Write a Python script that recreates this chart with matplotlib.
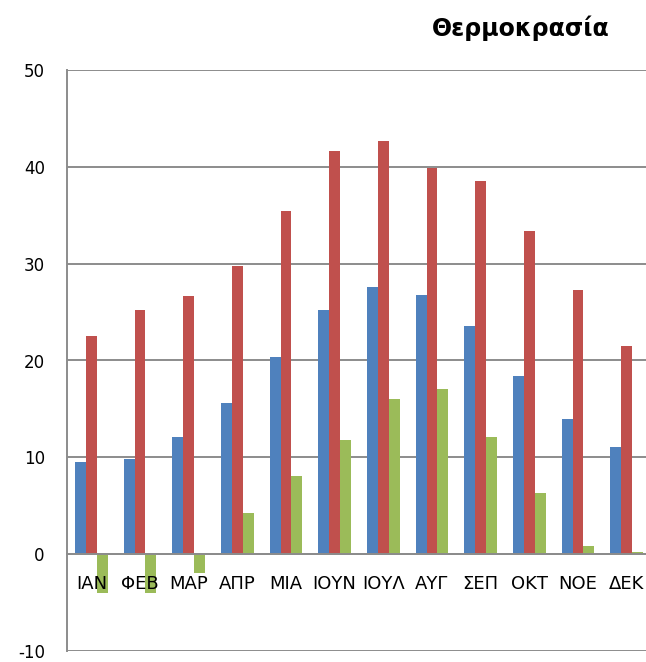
import numpy as np
import matplotlib.pyplot as plt

months = ["ΙΑΝ", "ΦΕΒ", "ΜΑΡ", "ΑΠΡ", "ΜΙΑ", "ΙΟΥΝ", "ΙΟΥΛ", "ΑΥΓ", "ΣΕΠ", "ΟΚΤ", "ΝΟΕ", "ΔΕΚ"]
mean_temp = [9.5, 9.8, 12.1, 15.6, 20.4, 25.2, 27.6, 26.8, 23.6, 18.4, 14.0, 11.1]
max_temp = [22.5, 25.2, 26.7, 29.8, 35.4, 41.6, 42.7, 39.9, 38.5, 33.4, 27.3, 21.5]
min_temp = [-4.0, -4.0, -1.9, 4.2, 8.1, 11.8, 16.0, 17.1, 12.1, 6.3, 0.8, 0.2]

plt.rcParams['font.family'] = ['DejaVu Sans']
plt.rcParams['axes.unicode_minus'] = False

fig = plt.figure(figsize=(6.46, 6.62), dpi=100)
ax = fig.add_axes([67 / 646, 11 / 662, 584 / 646, 581 / 662])

x = np.arange(len(months))
w = 0.226
ax.bar(x - w, mean_temp, w, color="#4F81BD", zorder=2)
ax.bar(x, max_temp, w, color="#C0504D", zorder=2)
ax.bar(x + w, min_temp, w, color="#9BBB59", zorder=2)

ax.set_xlim(-0.5, 11.5)
ax.set_ylim(-10, 50)
ax.set_yticks(range(-10, 51, 10))
ax.yaxis.grid(True, color="#8c8c8c", linewidth=1.4, zorder=1)
ax.set_axisbelow(True)

ax.spines['top'].set_visible(False)
ax.spines['right'].set_visible(False)
ax.spines['left'].set_color("#8c8c8c")
ax.spines['left'].set_linewidth(1.4)
ax.spines['bottom'].set_position(('data', 0))
ax.spines['bottom'].set_color("#8c8c8c")
ax.spines['bottom'].set_linewidth(1.4)

ax.set_xticks(x)
ax.set_xticklabels([])
ax.tick_params(axis='x', length=0)
ax.tick_params(axis='y', length=0, pad=16, labelsize=12)

# month labels sit just under the zero line, on top of the bars
for i, m in enumerate(months):
    ax.annotate(m, (x[i], 0), xytext=(0, -30), textcoords='offset pixels',
                ha='center', va='center', fontsize=13, zorder=5)

fig.text(0.668, 0.958, "Θερμοκρασία", fontsize=17, fontweight='bold',
         ha='left', va='center')

plt.savefig("out.png", dpi=100)
